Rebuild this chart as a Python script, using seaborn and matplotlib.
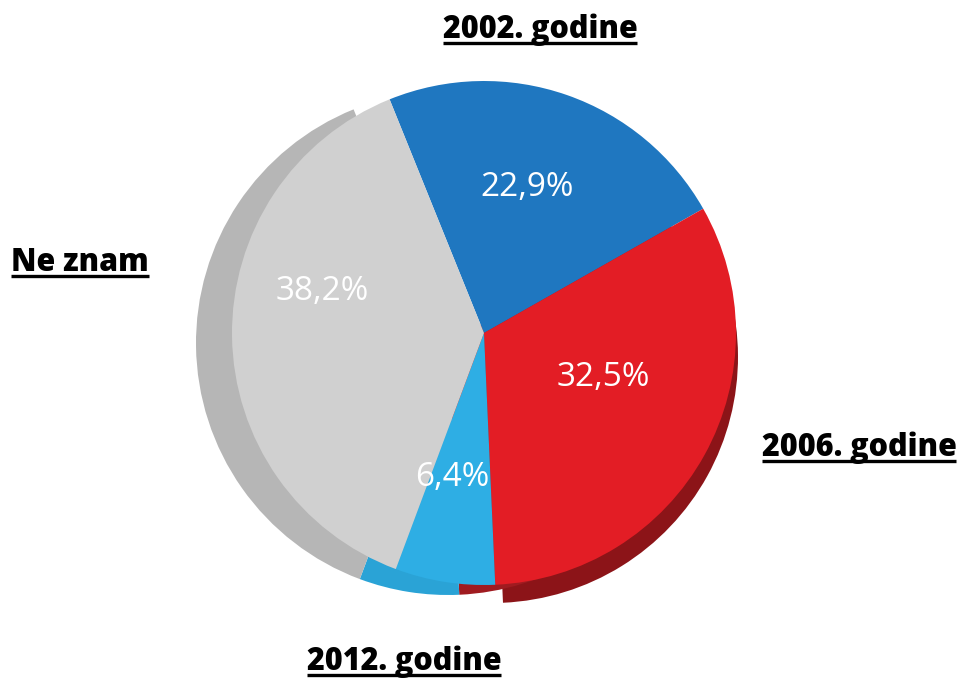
import numpy as np
import matplotlib
matplotlib.use("Agg")
import matplotlib.pyplot as plt
import seaborn as sns

# data, clockwise from the top
labels = ['2002. godine', '2006. godine', '2012. godine', 'Ne znam']
values = [22.9, 32.5, 6.4, 38.2]
colors = ['#1f77c0', '#e31d25', '#2eaee4', '#d0d0d0']
side_colors = ['none', '#a01b20', '#2aa3d6', '#b6b6b6']
pct_pos = [(527, 188), (603, 377), (452, 477), (322, 292)]   # pixel positions of the % labels

sns.set_style("white")
plt.rcParams['font.family'] = ['Open Sans', 'DejaVu Sans']

W, H = 973, 678
fig = plt.figure(figsize=(W / 100, H / 100), dpi=100)
ax = fig.add_axes([0, 0, 1, 1])

cx, cy, r = 484, H - 333, 252
start = 112
nofill = dict(linewidth=0)

# darker red rim at the bottom right
ax.pie(values, colors=['none', '#8c1418', 'none', 'none'], startangle=start,
       counterclock=False, center=(cx + 8, cy - 24), radius=r - 6, frame=True,
       wedgeprops=nofill)
# side of the disk, showing on the left
ax.pie(values, colors=side_colors, startangle=start, counterclock=False,
       center=(cx - 36, cy - 10), radius=r, frame=True, wedgeprops=nofill)

# top face
wedges, _, pcts = ax.pie(values, colors=colors, startangle=start, counterclock=False,
                         center=(cx, cy), radius=r, frame=True,
                         autopct=lambda p: f'{p:.1f}%'.replace('.', ','),
                         textprops=dict(color='white', fontsize=24),
                         wedgeprops=nofill)

for t, (x, y) in zip(pcts, pct_pos):
    t.set_position((x, H - y))
    t.set_ha('center')
    t.set_va('center')

ax.set_xlim(0, W)
ax.set_ylim(0, H)
ax.set_aspect('equal')
ax.axis('off')

# category names, bold and underlined
name_pos = [(540, 30), (859, 448), (404, 662), (80, 263)]
names = []
for lab, (x, y) in zip(labels, name_pos):
    names.append(ax.text(x, H - y, lab, ha='center', va='center', fontsize=22,
                         fontweight='extra bold', color='black'))

fig.canvas.draw()
inv = ax.transData.inverted()
for t in names:
    bb = t.get_window_extent()
    (x0, y0), (x1, y1) = inv.transform([(bb.x0, bb.y0), (bb.x1, bb.y1)])
    ax.plot([x0, x1], [y0 + 3, y0 + 3], color='black', lw=2.4, solid_capstyle='butt')

fig.savefig('out.png', dpi=100)
